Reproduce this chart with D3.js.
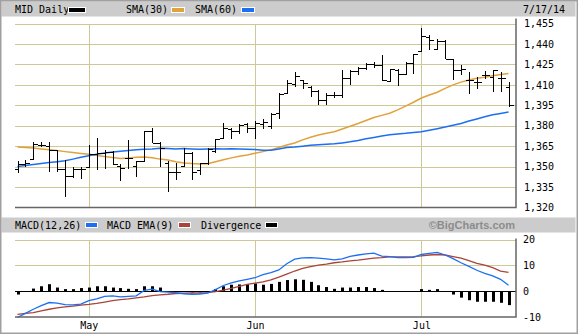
<!DOCTYPE html>
<html>
<head>
<meta charset="utf-8">
<script src="https://cdn.jsdelivr.net/npm/d3@7"></script>
<style>
  html, body { margin: 0; padding: 0; background: #fff; }
  svg { display: block; }
  text { font-family: "DejaVu Sans Mono", monospace; font-size: 10px; fill: #000; }
</style>
</head>
<body>
<svg id="chart" width="579" height="335"></svg>
<script>
// Trading days shown on the chart
const dates = [
  "2014-04-17","2014-04-21","2014-04-22","2014-04-23","2014-04-24","2014-04-25","2014-04-28","2014-04-29","2014-04-30",
  "2014-05-01","2014-05-02","2014-05-05","2014-05-06","2014-05-07","2014-05-08","2014-05-09","2014-05-12","2014-05-13",
  "2014-05-14","2014-05-15","2014-05-16","2014-05-19","2014-05-20","2014-05-21","2014-05-22","2014-05-23","2014-05-27",
  "2014-05-28","2014-05-29","2014-05-30",
  "2014-06-02","2014-06-03","2014-06-04","2014-06-05","2014-06-06","2014-06-09","2014-06-10","2014-06-11","2014-06-12",
  "2014-06-13","2014-06-16","2014-06-17","2014-06-18","2014-06-19","2014-06-20","2014-06-23","2014-06-24","2014-06-25",
  "2014-06-26","2014-06-27","2014-06-30",
  "2014-07-01","2014-07-02","2014-07-03","2014-07-07","2014-07-08","2014-07-09","2014-07-10","2014-07-11","2014-07-14",
  "2014-07-15","2014-07-16","2014-07-17"
];

// Daily OHLC for MID
const open  = [1348.5,1352,1355.6,1366,1365,1362,1348,1343,1348.5,1349.8,1359,1360,1360.5,1350.2,1356.4,1350.2,1353.9,1375.9,1367.4,1352.7,1346.1,1350.2,1360,1347.8,1352.7,1361.4,1371.2,1377.3,1376.1,1381,1378.5,1381,1379.8,1389.5,1403.7,1410.3,1413.5,1408.6,1405.4,1398.8,1402.5,1402.5,1414.7,1420.3,1422,1425.2,1424.5,1412.9,1421.2,1418.3,1426.1,1434.6,1445.2,1436.6,1442.2,1429.3,1420.7,1413.4,1412.1,1417,1415.8,1415.3,1408.5];
const high  = [1354,1355,1368,1368,1368,1362.5,1355,1350,1350,1366,1371,1362.5,1361.3,1352,1369.8,1354,1376,1378.4,1368,1354,1352.7,1363.7,1360.5,1352.7,1363.9,1370,1382.2,1378.5,1381,1382.2,1383.4,1384.7,1389.5,1404.2,1413.5,1419.6,1413.5,1409.3,1406.1,1403.7,1404.9,1420.8,1420.8,1423.3,1425.7,1426.9,1431.8,1421.9,1421.9,1426.8,1432.9,1452,1446.4,1443.9,1442.9,1429.3,1424.4,1419.5,1415.8,1420.2,1421.2,1419.5,1412.1];
const low   = [1345.3,1350,1355,1364.5,1346,1346,1327.7,1342,1341,1349.5,1347.8,1348,1351.5,1339.2,1348,1342.4,1353.5,1367,1350,1331.2,1340.5,1349.8,1340.5,1344.1,1351.4,1360.2,1371.2,1370,1373.6,1374.9,1370,1377.3,1377.3,1384.7,1403,1408.6,1406.6,1401.2,1395.1,1395.1,1400,1400,1409.8,1417.1,1420.8,1422,1413,1412.1,1409.2,1417,1418.3,1434.6,1435.4,1435.4,1429.3,1413.4,1417,1403.6,1407.2,1414.6,1404.8,1404.8,1394];
const close = [1352,1353,1366.5,1366,1362,1348,1343,1348.5,1348,1359,1360,1360.5,1352,1349,1356.4,1353.9,1375.9,1367.4,1363.7,1346.1,1346.1,1360,1346.1,1352.7,1362.6,1370,1378.5,1376.1,1380.2,1378.5,1382.2,1382.7,1388.3,1403.3,1411.1,1416.4,1411,1405.4,1398.8,1402.5,1402.5,1414.7,1420.3,1422,1425.2,1424.5,1413.5,1421.9,1418.3,1426.1,1432.9,1445.7,1443.2,1442,1429.3,1420.7,1421.9,1413.4,1412.1,1417,1420.7,1415.3,1395];

// Moving averages
const sma30 = [1364.4,1364.0,1363.6,1363.0,1362.4,1361.8,1361.0,1360.3,1359.6,1359.0,1358.2,1357.4,1356.6,1356.0,1356.3,1356.8,1357.0,1356.5,1355.5,1354.8,1353.6,1352.6,1352.2,1352.0,1352.1,1353.5,1355.0,1356.4,1357.6,1358.6,1359.8,1361.0,1362.3,1364.0,1365.8,1367.3,1369.6,1371.6,1373.2,1374.5,1375.6,1377.6,1379.6,1381.6,1383.8,1386.0,1387.6,1389.2,1391.6,1394.4,1397.2,1400.3,1402.5,1404.6,1407.4,1410.0,1412.0,1413.6,1414.8,1415.6,1416.6,1417.6,1418.3];
const sma60 = [1350.1,1350.8,1351.5,1352.2,1353.0,1353.6,1354.3,1355.5,1356.8,1358.0,1359.0,1360.0,1360.8,1361.3,1361.9,1362.4,1362.7,1363.0,1363.5,1363.3,1363.0,1363.3,1363.0,1362.8,1363.0,1363.1,1362.9,1363.1,1363.0,1362.8,1362.6,1362.0,1362.0,1362.9,1364.0,1364.4,1365.0,1365.6,1366.1,1366.4,1366.7,1367.4,1368.2,1369.2,1370.4,1371.4,1372.4,1373.3,1374.0,1374.4,1375.0,1375.5,1376.6,1377.8,1379.0,1380.4,1381.7,1383.4,1385.0,1386.6,1388.0,1389.0,1390.0];

// MACD(12,26), its 9-day EMA and the divergence histogram
const macd = [-10.2,-8.6,-7.0,-5.6,-4.4,-4.6,-5.2,-5.3,-5.0,-3.7,-3.0,-2.0,-1.8,-2.2,-2.0,-1.8,0.3,0.8,-0.2,-0.4,-0.6,-1.0,-1.2,-1.1,-0.8,0.6,2.2,3.2,4.0,4.6,5.2,6.4,7.2,8.2,10.6,12.4,12.9,13.0,12.8,12.5,12.1,12.5,13.5,14.0,14.4,14.7,13.6,13.4,13.0,13.0,13.1,14.2,14.6,15.0,14.0,12.6,11.0,9.6,8.1,6.9,5.9,4.6,2.3];
const signal = [-9.0,-8.6,-8.3,-7.6,-7.0,-6.5,-6.1,-5.8,-5.4,-5.1,-4.7,-4.2,-3.7,-3.3,-3.0,-2.6,-2.2,-1.7,-1.4,-1.2,-0.9,-0.8,-0.7,-0.7,-0.6,-0.2,0.4,1.1,1.9,2.6,3.1,3.6,4.4,5.4,6.6,7.8,8.8,9.5,10.1,10.5,11.0,11.3,11.7,12.0,12.4,12.8,13.0,13.3,13.3,13.3,13.4,13.7,14.0,14.2,14.0,13.4,12.8,11.8,10.8,10.1,9.1,7.8,7.3];
const divergence = [-1.3,0,1.0,1.9,2.7,1.4,0.8,0.8,1.2,1.4,1.9,1.9,1.4,1.2,0.9,0.8,1.9,1.9,1.4,0,0,0,-0.5,-0.5,0,0.8,1.9,2.5,2.6,2.7,3.0,2.5,2.8,3.6,4.3,4.6,4.4,3.6,2.3,1.6,0.9,1.4,1.4,1.6,1.6,1.2,0.5,0,0,0,0,0.8,0.5,0.8,0,-1.3,-2.5,-3.5,-4.1,-4.1,-4.1,-4.5,-5.4];

// Axis ticks
const priceTicks = [1320,1335,1350,1365,1380,1395,1410,1425,1440,1455];
const macdTicks = [-10,0,10,20];
const monthStarts = ["2014-05-01","2014-06-02","2014-07-01"];
const monthLabels = ["May","Jun","Jul"];

const C = {
  grid: "#cdc898",
  axis: "#666666",
  band: "#cccccc",
  frame: "#a0a0a0",
  orange: "#e0a23a",
  blue: "#1c6ff2",
  red: "#a8443a",
  bar: "#000000"
};

const svg = d3.select("#chart");
const plotL = 15, plotR = 516;
const crisp = v => Math.round(v) + 0.5;

const x = d3.scalePoint().domain(dates).range([17.5, 508.5]);
const yP = d3.scaleLinear().domain([1320, 1455]).range([207.5, 23.5]);
const yM = d3.scaleLinear().domain([-10, 20]).range([317, 239.5]);

// Outer frame and header bands
svg.append("rect").attr("x", 0).attr("y", 0).attr("width", 579).attr("height", 335).attr("fill", "#fff");
svg.append("rect").attr("x", 1.5).attr("y", 1.5).attr("width", 574).attr("height", 15).attr("fill", C.band);
svg.append("rect").attr("x", 1.5).attr("y", 217.5).attr("width", 574).attr("height", 15).attr("fill", C.band);
svg.append("rect").attr("x", 0.75).attr("y", 0.75).attr("width", 576.5).attr("height", 332.5)
  .attr("fill", "none").attr("stroke", C.frame).attr("stroke-width", 1.5);

// Price header legend
const legendTop = svg.append("g");
function swatch(g, x0, y0, w, color) {
  g.append("rect").attr("x", x0 - 1).attr("y", y0 - 1).attr("width", w + 2).attr("height", 6).attr("fill", "#fff");
  g.append("rect").attr("x", x0).attr("y", y0).attr("width", w).attr("height", 4).attr("fill", color);
}
legendTop.append("text").attr("x", 15).attr("y", 13).text("MID Daily");
swatch(legendTop, 69, 8, 16, C.bar);
legendTop.append("text").attr("x", 126).attr("y", 13).text("SMA(30)");
swatch(legendTop, 172, 8, 12, C.orange);
legendTop.append("text").attr("x", 195).attr("y", 13).text("SMA(60)");
swatch(legendTop, 242, 8, 12, C.blue);
legendTop.append("text").attr("x", 523).attr("y", 13).text("7/17/14");

// MACD header legend
const legendM = svg.append("g");
legendM.append("text").attr("x", 15).attr("y", 228.5).text("MACD(12,26)");
swatch(legendM, 86, 223, 11, C.blue);
legendM.append("text").attr("x", 107).attr("y", 228.5).text("MACD EMA(9)");
swatch(legendM, 179, 223, 11, C.red);
legendM.append("text").attr("x", 201).attr("y", 228.5).text("Divergence");
swatch(legendM, 266, 223, 11, C.bar);
legendM.append("text").attr("x", 515).attr("y", 229).attr("text-anchor", "end")
  .style("font-family", "'Liberation Sans', Arial, sans-serif").style("font-size", "11px")
  .style("font-weight", "bold").style("fill", "#8c8c8c").text("\u00A9BigCharts.com");

// Price panel grid
const gP = svg.append("g").attr("shape-rendering", "crispEdges");
gP.selectAll("line.h").data(priceTicks.filter(d => d !== 1320)).join("line")
  .attr("x1", plotL).attr("x2", plotR)
  .attr("y1", d => crisp(yP(d))).attr("y2", d => crisp(yP(d)))
  .attr("stroke", C.grid);
gP.selectAll("line.v").data(monthStarts).join("line")
  .attr("x1", d => crisp(x(d))).attr("x2", d => crisp(x(d)))
  .attr("y1", yP(1455)).attr("y2", yP(1320))
  .attr("stroke", C.grid);

// MACD panel grid
const gM = svg.append("g").attr("shape-rendering", "crispEdges");
gM.selectAll("line.h").data([10, 20]).join("line")
  .attr("x1", plotL).attr("x2", plotR)
  .attr("y1", d => crisp(yM(d))).attr("y2", d => crisp(yM(d)))
  .attr("stroke", C.grid);
gM.selectAll("line.v").data(monthStarts).join("line")
  .attr("x1", d => crisp(x(d))).attr("x2", d => crisp(x(d)))
  .attr("y1", yM(20)).attr("y2", yM(-10))
  .attr("stroke", C.grid);

// Moving average lines
const idx = d3.range(dates.length);
const lineP = vals => d3.line().x(i => x(dates[i])).y(i => yP(vals[i])).curve(d3.curveLinear)(idx);
svg.append("path").attr("d", lineP(sma30)).attr("fill", "none").attr("stroke", C.orange).attr("stroke-width", 1.5);
svg.append("path").attr("d", lineP(sma60)).attr("fill", "none").attr("stroke", C.blue).attr("stroke-width", 1.5);

// OHLC bars
const gBars = svg.append("g").attr("stroke", C.bar).attr("stroke-width", 1.6).attr("shape-rendering", "crispEdges");
idx.forEach(i => {
  const cx = Math.round(x(dates[i])) + 0.5;
  gBars.append("line").attr("x1", cx).attr("x2", cx).attr("y1", yP(high[i])).attr("y2", yP(low[i]));
  gBars.append("line").attr("x1", cx - 4).attr("x2", cx).attr("y1", crisp(yP(open[i]))).attr("y2", crisp(yP(open[i])));
  gBars.append("line").attr("x1", cx).attr("x2", cx + 4).attr("y1", crisp(yP(close[i]))).attr("y2", crisp(yP(close[i])));
});

// Divergence histogram
svg.append("g").selectAll("rect").data(idx.filter(i => divergence[i] !== 0)).join("rect")
  .attr("x", i => Math.round(x(dates[i])) - 1)
  .attr("width", 3)
  .attr("y", i => Math.min(yM(0), yM(divergence[i])))
  .attr("height", i => Math.abs(yM(divergence[i]) - yM(0)))
  .attr("fill", C.bar);

// Zero line
svg.append("line").attr("x1", plotL).attr("x2", plotR)
  .attr("y1", crisp(yM(0))).attr("y2", crisp(yM(0)))
  .attr("stroke", "#000").attr("stroke-width", 1).attr("shape-rendering", "crispEdges");

// MACD and signal lines
const lineM = vals => d3.line().x(i => x(dates[i])).y(i => yM(vals[i]))(idx);
svg.append("path").attr("d", lineM(signal)).attr("fill", "none").attr("stroke", C.red).attr("stroke-width", 1.3);
svg.append("path").attr("d", lineM(macd)).attr("fill", "none").attr("stroke", C.blue).attr("stroke-width", 1.3);

// Panel borders (right edge and bottom axis)
const gB = svg.append("g").attr("stroke", C.axis).attr("stroke-width", 1.5).attr("fill", "none");
gB.append("path").attr("d", `M${plotL},${yP(1320)}H${plotR}V${yP(1455) - 5}`);
gB.append("path").attr("d", `M${plotL},${yM(-10)}H${plotR}V${yM(20) - 1}`);

// Right-hand value axes
const axP = svg.append("g").attr("transform", `translate(${plotR},0)`)
  .call(d3.axisRight(yP).tickValues(priceTicks).tickFormat(d3.format(",")).tickSize(0).tickPadding(8));
const axM = svg.append("g").attr("transform", `translate(${plotR},0)`)
  .call(d3.axisRight(yM).tickValues(macdTicks).tickFormat(d => d).tickSize(0).tickPadding(7));
[axP, axM].forEach(a => {
  a.select(".domain").remove();
  a.selectAll("text").attr("font-family", null).attr("font-size", null).attr("fill", "#000");
  a.attr("font-family", null).attr("font-size", null);
});

// Month labels
const axX = svg.append("g").attr("transform", `translate(0,${yM(-10)})`)
  .call(d3.axisBottom(x).tickValues(monthStarts).tickFormat((d, i) => monthLabels[i]).tickSize(0).tickPadding(5));
axX.select(".domain").remove();
axX.attr("font-family", null).attr("font-size", null);
axX.selectAll("text").attr("fill", "#000");
</script>
</body>
</html>
